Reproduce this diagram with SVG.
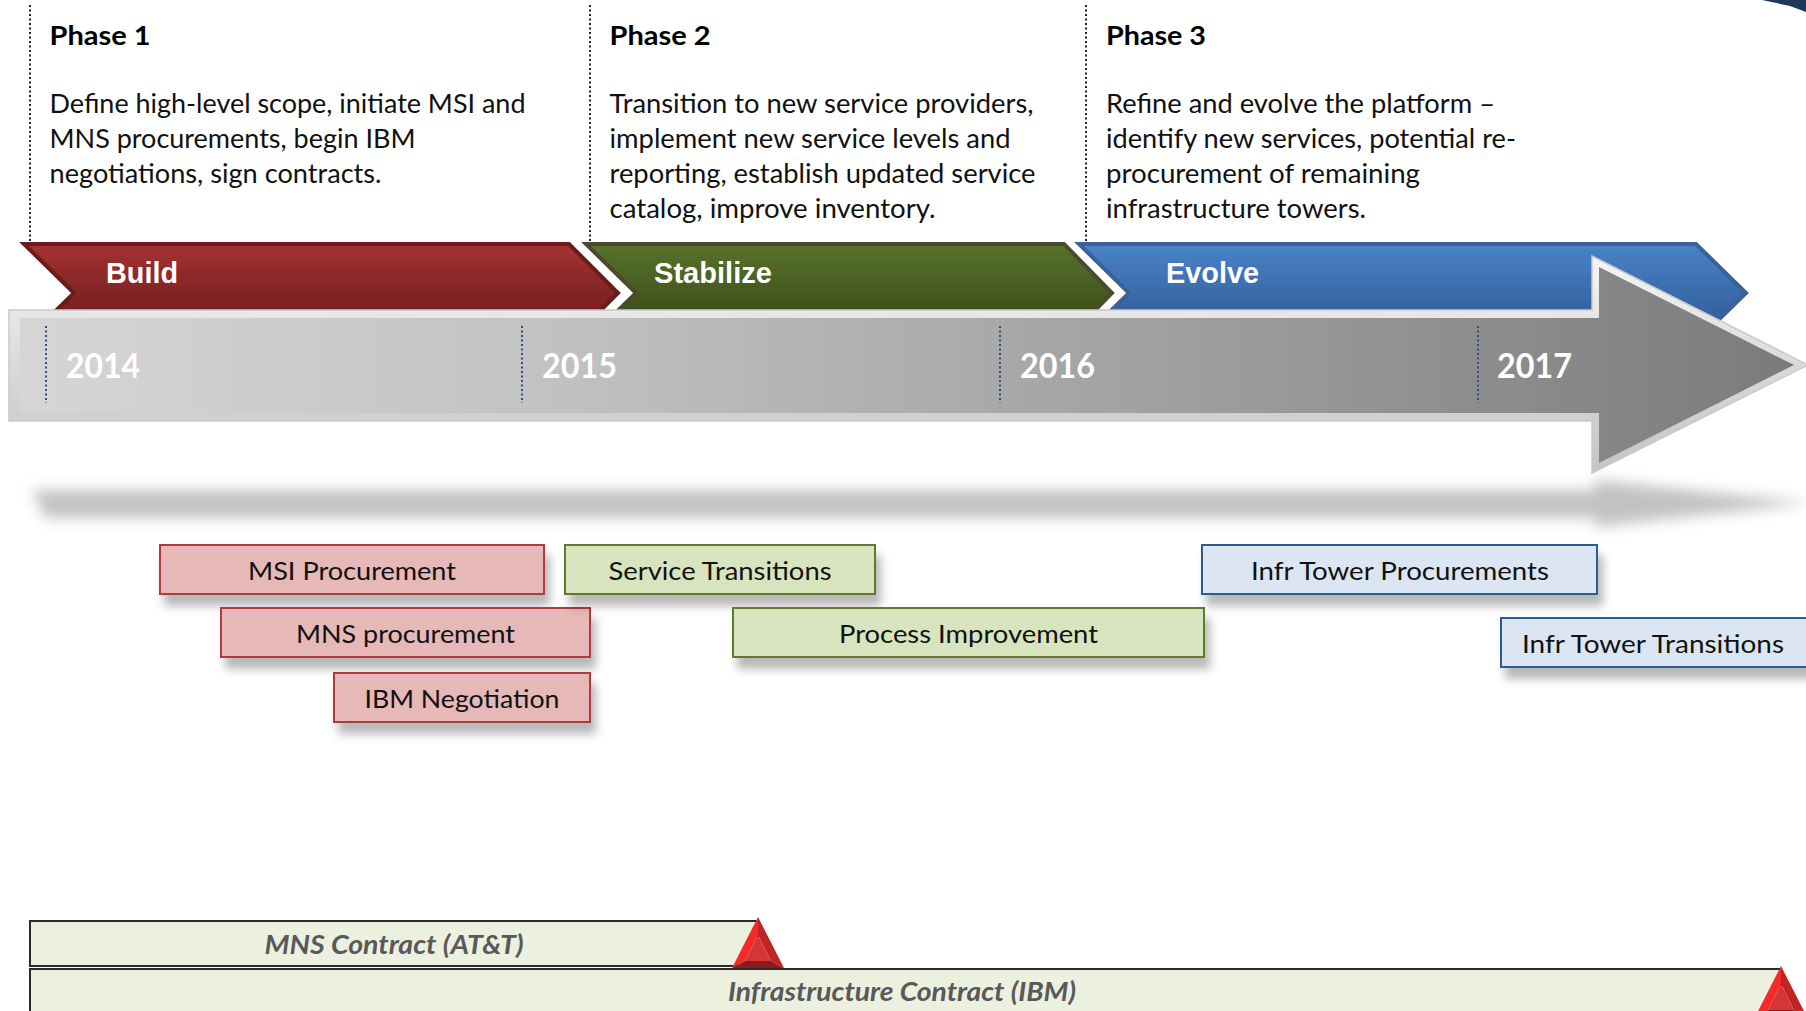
<svg xmlns="http://www.w3.org/2000/svg" width="1806" height="1011" viewBox="0 0 1806 1011">
<style>
.hd{font-family:Lato,"Liberation Sans",sans-serif;font-weight:bold;font-size:26.5px;fill:#000}
.bd{font-family:Lato,"Liberation Sans",sans-serif;font-size:26.5px;fill:#111}
.yr{font-family:Lato,"Liberation Sans",sans-serif;font-weight:bold;font-size:34px;fill:#fff}
.ch{font-family:"Liberation Sans",Arial,sans-serif;font-weight:bold;font-size:29px;fill:#fff}
.tk{font-family:Lato,"Liberation Sans",sans-serif;font-size:24.5px;fill:#111;text-anchor:middle}
.ct{font-family:Lato,"Liberation Sans",sans-serif;font-style:italic;font-weight:bold;font-size:26px;fill:#595959;text-anchor:middle}
.dot{stroke:#222;stroke-width:2;stroke-dasharray:2 2.5;fill:none}
.ydot{stroke:#2d4f86;stroke-width:2;stroke-dasharray:2 2.5;fill:none}
.red{fill:#e6b8b8;stroke:#b13b3b;stroke-width:2}
.grn{fill:#d7e4bd;stroke:#5f7a2e;stroke-width:2}
.blu{fill:#dce6f2;stroke:#2f5b8f;stroke-width:2}
.bar{fill:#ebf0df;stroke:#2a2a2a;stroke-width:2}
.tL{fill:#f42a2a}.tR{fill:#c22323}.tB{fill:#8c1c1c}.tC{fill:#d63535}
</style>
<defs>
<linearGradient id="gBuild" gradientUnits="userSpaceOnUse" x1="0" y1="244" x2="0" y2="312"><stop offset="0" stop-color="#a43232"/><stop offset="1" stop-color="#771f1f"/></linearGradient>
<linearGradient id="gStab" gradientUnits="userSpaceOnUse" x1="0" y1="244" x2="0" y2="312"><stop offset="0" stop-color="#59732c"/><stop offset="1" stop-color="#3d511a"/></linearGradient>
<linearGradient id="gEvo" gradientUnits="userSpaceOnUse" x1="0" y1="244" x2="0" y2="312"><stop offset="0" stop-color="#4a83c9"/><stop offset="1" stop-color="#3463a1"/></linearGradient>
<linearGradient id="gArrOut" x1="0" y1="0" x2="0" y2="1"><stop offset="0" stop-color="#f6f6f6"/><stop offset="0.5" stop-color="#dadada"/><stop offset="1" stop-color="#c4c4c4"/></linearGradient>
<linearGradient id="gArr" gradientUnits="userSpaceOnUse" x1="9" y1="0" x2="1806" y2="0"><stop offset="0" stop-color="#d6d6d6"/><stop offset="0.3" stop-color="#c2c2c2"/><stop offset="0.6" stop-color="#a4a4a4"/><stop offset="0.85" stop-color="#8a8a8a"/><stop offset="1" stop-color="#7a7a7a"/></linearGradient>
<filter id="sh" x="-10%" y="-30%" width="125%" height="190%"><feDropShadow dx="5" dy="11" stdDeviation="5" flood-color="#000" flood-opacity="0.28"/></filter>
<filter id="blur" x="-5%" y="-100%" width="110%" height="300%"><feGaussianBlur stdDeviation="7"/></filter>
</defs>
<rect width="1806" height="1011" fill="#fff"/>
<polygon points="1762,0 1806,0 1806,12 1790,6" fill="#1f3859"/>

<g id="connectors">
<line class="dot" x1="30" y1="5" x2="30" y2="243"/>
<line class="dot" x1="590" y1="5" x2="590" y2="243"/>
<line class="dot" x1="1086" y1="5" x2="1086" y2="243"/>
</g>

<g id="phase1">
<text class="hd" x="49.5" y="45" textLength="101" lengthAdjust="spacingAndGlyphs">Phase 1</text>
<text class="bd" x="49.5" y="113" textLength="476" lengthAdjust="spacingAndGlyphs">Define high-level scope, initiate MSI and</text>
<text class="bd" x="49.5" y="148" textLength="366" lengthAdjust="spacingAndGlyphs">MNS procurements, begin IBM</text>
<text class="bd" x="49.5" y="183" textLength="332" lengthAdjust="spacingAndGlyphs">negotiations, sign contracts.</text>
</g>
<g id="phase2">
<text class="hd" x="609.5" y="45" textLength="101" lengthAdjust="spacingAndGlyphs">Phase 2</text>
<text class="bd" x="609.5" y="113" textLength="424" lengthAdjust="spacingAndGlyphs">Transition to new service providers,</text>
<text class="bd" x="609.5" y="148" textLength="401" lengthAdjust="spacingAndGlyphs">implement new service levels and</text>
<text class="bd" x="609.5" y="183" textLength="426" lengthAdjust="spacingAndGlyphs">reporting, establish updated service</text>
<text class="bd" x="609.5" y="218" textLength="326" lengthAdjust="spacingAndGlyphs">catalog, improve inventory.</text>
</g>
<g id="phase3">
<text class="hd" x="1106" y="45" textLength="100" lengthAdjust="spacingAndGlyphs">Phase 3</text>
<text class="bd" x="1106" y="113" textLength="389" lengthAdjust="spacingAndGlyphs">Refine and evolve the platform –</text>
<text class="bd" x="1106" y="148" textLength="410" lengthAdjust="spacingAndGlyphs">identify new services, potential re-</text>
<text class="bd" x="1106" y="183" textLength="314" lengthAdjust="spacingAndGlyphs">procurement of remaining</text>
<text class="bd" x="1106" y="218" textLength="260" lengthAdjust="spacingAndGlyphs">infrastructure towers.</text>
</g>

<g id="build">
<polygon points="24,244 569,244 618,293 569,342 24,342 74,293" fill="url(#gBuild)" stroke="#6a1b1b" stroke-width="4"/>
<text class="ch" x="106" y="283" textLength="72" lengthAdjust="spacingAndGlyphs">Build</text>
</g>
<g id="stabilize">
<polygon points="586,244 1064,244 1112,293 1064,342 586,342 636,293" fill="url(#gStab)" stroke="#4b4930" stroke-width="4"/>
<text class="ch" x="654" y="283" textLength="118" lengthAdjust="spacingAndGlyphs">Stabilize</text>
</g>
<g id="evolve">
<polygon points="1079,244 1696,244 1746,293 1696,342 1079,342 1129,293" fill="url(#gEvo)" stroke="#3b6197" stroke-width="4"/>
<text class="ch" x="1166" y="283" textLength="93" lengthAdjust="spacingAndGlyphs">Evolve</text>
</g>

<g id="timeline-shadow">
<polygon points="32,490 1595,490 1595,480 1812,503 1595,527 1595,518 45,518" fill="#b4b4b4" filter="url(#blur)" opacity="0.8"/>
</g>

<g id="timeline">
<polygon points="9,310 1592,310 1592,256 1808,365 1592,473 1592,421 9,421" fill="url(#gArrOut)" stroke="#c9c9c9" stroke-width="1.5"/>
<polygon points="20,318 1599,318 1599,267 1794,365 1599,463 1599,413 20,413" fill="url(#gArr)"/>
<line class="ydot" x1="46" y1="326" x2="46" y2="403"/>
<line class="ydot" x1="522" y1="326" x2="522" y2="403"/>
<line class="ydot" x1="1000" y1="326" x2="1000" y2="403"/>
<line class="ydot" x1="1478" y1="326" x2="1478" y2="403"/>
<text class="yr" x="66" y="378" textLength="74" lengthAdjust="spacingAndGlyphs">2014</text>
<text class="yr" x="542" y="378" textLength="75" lengthAdjust="spacingAndGlyphs">2015</text>
<text class="yr" x="1020" y="378" textLength="75" lengthAdjust="spacingAndGlyphs">2016</text>
<text class="yr" x="1497" y="378" textLength="75" lengthAdjust="spacingAndGlyphs">2017</text>
</g>

<g id="msi-procurement">
<rect class="red" x="160" y="545" width="384" height="49" filter="url(#sh)"/>
<text class="tk" x="352" y="580" textLength="208" lengthAdjust="spacingAndGlyphs">MSI Procurement</text>
</g>
<g id="mns-procurement">
<rect class="red" x="221" y="608" width="369" height="49" filter="url(#sh)"/>
<text class="tk" x="405.5" y="643" textLength="219" lengthAdjust="spacingAndGlyphs">MNS procurement</text>
</g>
<g id="ibm-negotiation">
<rect class="red" x="334" y="673" width="256" height="49" filter="url(#sh)"/>
<text class="tk" x="462" y="708" textLength="195" lengthAdjust="spacingAndGlyphs">IBM Negotiation</text>
</g>
<g id="service-transitions">
<rect class="grn" x="565" y="545" width="310" height="49" filter="url(#sh)"/>
<text class="tk" x="720" y="580" textLength="223" lengthAdjust="spacingAndGlyphs">Service Transitions</text>
</g>
<g id="process-improvement">
<rect class="grn" x="733" y="608" width="471" height="49" filter="url(#sh)"/>
<text class="tk" x="968.5" y="643" textLength="259" lengthAdjust="spacingAndGlyphs">Process Improvement</text>
</g>
<g id="infr-tower-procurements">
<rect class="blu" x="1202" y="545" width="395" height="49" filter="url(#sh)"/>
<text class="tk" x="1400" y="580" textLength="298" lengthAdjust="spacingAndGlyphs">Infr Tower Procurements</text>
</g>
<g id="infr-tower-transitions">
<rect class="blu" x="1501" y="618" width="307" height="49" filter="url(#sh)"/>
<text class="tk" x="1653" y="653" textLength="262" lengthAdjust="spacingAndGlyphs">Infr Tower Transitions</text>
</g>

<g id="mns-contract">
<rect class="bar" x="30" y="921" width="728" height="45"/>
<text class="ct" x="394" y="954" textLength="259" lengthAdjust="spacingAndGlyphs">MNS Contract (AT&amp;T)</text>
<polygon class="tL" points="758,917 732,968 745,961 758,935"/>
<polygon class="tR" points="758,917 758,935 771,961 784,968"/>
<polygon class="tB" points="732,968 745,961 771,961 784,968"/>
<polygon class="tC" points="758,935 745,961 771,961"/>
</g>
<g id="infrastructure-contract">
<rect class="bar" x="30" y="969" width="1751" height="50"/>
<text class="ct" x="902" y="1001" textLength="348" lengthAdjust="spacingAndGlyphs">Infrastructure Contract (IBM)</text>
<polygon class="tL" points="1781,966 1755,1017 1768,1010 1781,984"/>
<polygon class="tR" points="1781,966 1781,984 1794,1010 1807,1017"/>
<polygon class="tB" points="1755,1017 1768,1010 1794,1010 1807,1017"/>
<polygon class="tC" points="1781,984 1768,1010 1794,1010"/>
</g>
</svg>
